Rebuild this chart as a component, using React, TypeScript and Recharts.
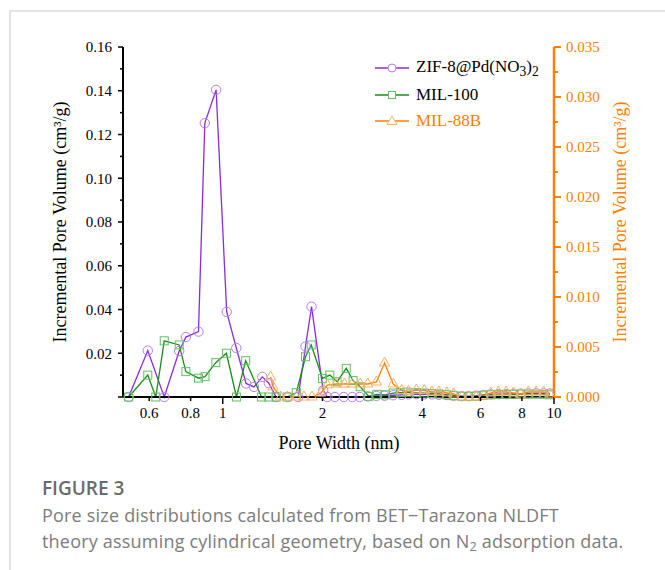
import React from 'react';
import { LineChart, Line, XAxis, YAxis, Legend } from 'recharts';

// pore width (nm) and incremental pore volume (cm3/g)
const zifWidth = [0.52, 0.594, 0.666, 0.739, 0.774, 0.845, 0.883, 0.955, 1.028, 1.099, 1.176, 1.243, 1.317, 1.378, 1.45, 1.57, 1.69, 1.778, 1.854, 2.01, 2.07, 2.18, 2.32, 2.46, 2.59, 2.74, 2.91, 3.08, 3.27, 3.47, 3.64, 3.84, 4.06, 4.28, 4.49, 4.75, 4.98, 5.27, 5.53, 5.82, 6.13, 6.44, 6.79, 7.17, 7.54, 7.93, 8.37, 8.83, 9.3, 9.72];
const zifVolume = [0, 0.0212, 0, 0.021, 0.0274, 0.0299, 0.1252, 0.1404, 0.0389, 0.0224, 0.0062, 0.0046, 0.0092, 0.0063, 0, 0, 0, 0.0231, 0.0413, 0.003, 0, 0, 0, 0, 0, 0.0003, 0.0005, 0.0006, 0.0008, 0.001, 0.0012, 0.0013, 0.0012, 0.0012, 0.001, 0.0009, 0.0006, 0.0004, 0.0004, 0.0006, 0.0009, 0.0012, 0.0013, 0.0013, 0.0014, 0.0015, 0.0016, 0.0017, 0.0017, 0.0016];

const milWidth = [0.52, 0.594, 0.628, 0.666, 0.739, 0.774, 0.845, 0.884, 0.953, 1.026, 1.1, 1.173, 1.31, 1.378, 1.45, 1.566, 1.668, 1.778, 1.85, 2.0, 2.105, 2.215, 2.36, 2.475, 2.6, 2.76, 2.92, 3.1, 3.27, 3.44, 3.6, 3.84, 4.06, 4.28, 4.49, 4.75, 4.98, 5.27, 5.53, 5.82, 6.13, 6.44, 6.79, 7.17, 7.54, 7.93, 8.37, 8.83, 9.3, 9.72];
const milVolume = [0, 0.01, 0, 0.0257, 0.0238, 0.0116, 0.0086, 0.0093, 0.0157, 0.02, 0, 0.0166, 0, 0, 0, 0, 0.002, 0.0184, 0.0238, 0.0085, 0.01, 0.007, 0.0131, 0.0075, 0.0047, 0.0003, 0.0012, 0.001, 0.0018, 0.002, 0.0022, 0.002, 0.0018, 0.0016, 0.0014, 0.001, 0.0006, 0.0003, 0.0002, 0.0004, 0.0008, 0.001, 0.0011, 0.0012, 0.0012, 0.0013, 0.0013, 0.0013, 0.0012, 0.001];

// MIL-88B is on the right axis
const mil88Width = [1.395, 1.42, 1.496, 1.566, 1.668, 1.758, 1.86, 1.98, 2.07, 2.2, 2.33, 2.46, 2.6, 2.74, 2.91, 3.08, 3.27, 3.47, 3.64, 3.84, 4.06, 4.28, 4.49, 4.75, 4.98, 5.27, 5.53, 5.82, 6.13, 6.44, 6.79, 7.17, 7.54, 7.93, 8.37, 8.83, 9.3, 9.72];
const mil88Volume = [0.002, 0.001, 0, 0, 0, 0, 0, 0.0004, 0.0012, 0.0013, 0.0013, 0.0013, 0.0013, 0.0013, 0.0015, 0.0034, 0.0013, 0.00065, 0.00055, 0.0007, 0.00065, 0.0005, 0.0005, 0.0004, 0.0003, 0, 0, 0, 0.0001, 0.0004, 0.0005, 0.0005, 0.0004, 0.0003, 0.0005, 0.0005, 0.0005, 0.0003];

const xTicks = [0.6, 0.8, 1, 2, 4, 6, 8, 10];
const leftTicks = [0, 0.01, 0.02, 0.03, 0.04, 0.05, 0.06, 0.07, 0.08, 0.09, 0.1, 0.11, 0.12, 0.13, 0.14, 0.15, 0.16];
const rightTicks = [0, 0.0025, 0.005, 0.0075, 0.01, 0.0125, 0.015, 0.0175, 0.02, 0.0225, 0.025, 0.0275, 0.03, 0.0325, 0.035];

const toPoints = (w: number[], v: number[]) => w.map((x, i) => ({ x, y: v[i] }));
const zifData = toPoints(zifWidth, zifVolume);
const milData = toPoints(milWidth, milVolume);
const mil88Data = toPoints(mil88Width, mil88Volume);

const PURPLE = '#8a2be2';
const PURPLE_LT = '#b47ef0';
const GREEN = '#1a8c1a';
const GREEN_LT = '#63c063';
const ORANGE = '#ff8000';
const ORANGE_LT = '#ffb066';
const SERIF = '"Liberation Serif", "Times New Roman", serif';
const SANS = '"Open Sans", "Noto Sans", sans-serif';

const CircleDot = (p: any) => (
  <circle key={p.index} cx={p.cx} cy={p.cy} r={4.7} fill="none" stroke={PURPLE_LT} strokeWidth={1} />
);
const SquareDot = (p: any) => (
  <rect key={p.index} x={p.cx - 4} y={p.cy - 4} width={8} height={8} fill="none" stroke={GREEN_LT} strokeWidth={1} />
);
const TriangleDot = (p: any) => (
  <path key={p.index} d={`M${p.cx},${p.cy - 6}L${p.cx + 5.1},${p.cy + 3}L${p.cx - 5.1},${p.cy + 3}Z`} fill="none" stroke={ORANGE_LT} strokeWidth={1} />
);

const BottomTick = (props: any) => {
  const { x, y, payload } = props;
  const v = payload.value;
  const long = v === 1 || v === 10;
  return (
    <g>
      <line x1={x} x2={x} y1={y} y2={y + (long ? 7 : 4)} stroke="#000" strokeWidth={1.5} />
      <text x={x} y={y + 21} textAnchor="middle" fontFamily={SERIF} fontSize={15} fill="#000">{v}</text>
    </g>
  );
};

const LeftTick = (props: any) => {
  const { x, y, payload } = props;
  const v = payload.value;
  const major = Math.round(v * 100) % 2 === 0;
  return (
    <g>
      <line x1={x} x2={x - (major ? 5 : 3)} y1={y} y2={y} stroke="#000" strokeWidth={1.5} />
      {major && v > 0 && (
        <text x={x - 11} y={y} dy="0.35em" textAnchor="end" fontFamily={SERIF} fontSize={15} fill="#000">{v.toFixed(2)}</text>
      )}
    </g>
  );
};

const RightTick = (props: any) => {
  const { x, y, payload } = props;
  const v = payload.value;
  const major = Math.round(v * 10000) % 50 === 0;
  return (
    <g>
      <line x1={x} x2={x + (major ? 7 : 4)} y1={y} y2={y} stroke={ORANGE} strokeWidth={2} />
      {major && (
        <text x={x + 12} y={y} dy="0.35em" textAnchor="start" fontFamily={SERIF} fontSize={15} fill={ORANGE}>{v.toFixed(3)}</text>
      )}
    </g>
  );
};

const subStyle: React.CSSProperties = { fontSize: '0.8em', verticalAlign: '-0.3em' };

const legendItems = [
  { key: 'zif', color: PURPLE, marker: 'circle', text: <>ZIF-8@Pd(NO<sub style={subStyle}>3</sub>)<sub style={subStyle}>2</sub></>, textColor: '#000' },
  { key: 'mil100', color: GREEN, marker: 'square', text: 'MIL-100', textColor: '#000' },
  { key: 'mil88', color: ORANGE, marker: 'triangle', text: 'MIL-88B', textColor: ORANGE },
];

const renderLegend = () => (
  <div style={{ fontFamily: SERIF, fontSize: 17 }}>
    {legendItems.map(it => (
      <div key={it.key} style={{ display: 'flex', alignItems: 'center', height: 26.5 }}>
        <svg width={34} height={12} style={{ marginRight: 7 }}>
          <line x1={0} x2={34} y1={6} y2={6} stroke={it.color} strokeWidth={1.3} />
          {it.marker === 'circle' && <circle cx={17} cy={6} r={4} fill="#fff" stroke={PURPLE_LT} />}
          {it.marker === 'square' && <rect x={13.5} y={2.5} width={7} height={7} fill="#fff" stroke={GREEN_LT} />}
          {it.marker === 'triangle' && <path d="M17,1L22,9.5L12,9.5Z" fill="#fff" stroke={ORANGE_LT} />}
        </svg>
        <span style={{ color: it.textColor, whiteSpace: 'nowrap' }}>{it.text}</span>
      </div>
    ))}
  </div>
);

const App: React.FC = () => {
  return (
    <div style={{ position: 'absolute', left: 0, top: 0, width: 665, height: 570, overflow: 'hidden', background: '#fff' }}>
      {/* figure frame */}
      <div style={{ position: 'absolute', left: 9, top: 10, width: 700, height: 600, borderTop: '2px solid #e3e3e3', borderLeft: '2px solid #e3e3e3' }} />

      <div style={{ position: 'absolute', left: 0, top: 0 }}>
        <LineChart width={665} height={470} margin={{ top: 47, right: 51, bottom: 43, left: 63 }}>
          <XAxis
            dataKey="x"
            type="number"
            scale="log"
            domain={[0.5, 10]}
            ticks={xTicks}
            interval={0}
            allowDataOverflow
            tick={<BottomTick />}
            tickLine={false}
            tickSize={0}
            tickMargin={0}
            height={30}
            axisLine={{ stroke: '#000', strokeWidth: 2 }}
          />
          <XAxis
            xAxisId="top"
            orientation="top"
            type="number"
            scale="log"
            domain={[0.5, 10]}
            tick={false}
            tickLine={false}
            height={0}
            axisLine={{ stroke: '#000', strokeWidth: 2 }}
          />
          <YAxis
            yAxisId="left"
            type="number"
            domain={[0, 0.16]}
            ticks={leftTicks}
            interval={0}
            tick={<LeftTick />}
            tickLine={false}
            tickSize={0}
            tickMargin={0}
            width={60}
            axisLine={{ stroke: '#000', strokeWidth: 2 }}
          />
          <YAxis
            yAxisId="right"
            orientation="right"
            type="number"
            domain={[0, 0.035]}
            ticks={rightTicks}
            interval={0}
            tick={<RightTick />}
            tickLine={false}
            tickSize={0}
            tickMargin={0}
            width={60}
            axisLine={{ stroke: ORANGE, strokeWidth: 2.5 }}
          />
          <Legend
            layout="vertical"
            align="center"
            verticalAlign="middle"
            content={renderLegend}
            wrapperStyle={{ left: 375, top: 55, width: 220 }}
          />
          <Line data={zifData} dataKey="y" yAxisId="left" name="ZIF-8@Pd(NO3)2" type="linear" stroke={PURPLE} strokeWidth={1.3} dot={CircleDot} activeDot={false} isAnimationActive={false} />
          <Line data={milData} dataKey="y" yAxisId="left" name="MIL-100" type="linear" stroke={GREEN} strokeWidth={1.3} dot={SquareDot} activeDot={false} isAnimationActive={false} />
          <Line data={mil88Data} dataKey="y" yAxisId="right" name="MIL-88B" type="linear" stroke={ORANGE} strokeWidth={1.3} dot={TriangleDot} activeDot={false} isAnimationActive={false} />
        </LineChart>
      </div>

      {/* axis titles */}
      <div style={{ position: 'absolute', left: 60, top: 222, transform: 'translate(-50%, -50%) rotate(-90deg)', whiteSpace: 'nowrap', fontFamily: SERIF, fontSize: 18, color: '#000' }}>
        Incremental Pore Volume (cm³/g)
      </div>
      <div style={{ position: 'absolute', left: 620, top: 222, transform: 'translate(-50%, -50%) rotate(-90deg)', whiteSpace: 'nowrap', fontFamily: SERIF, fontSize: 18, color: ORANGE }}>
        Incremental Pore Volume (cm³/g)
      </div>
      <div style={{ position: 'absolute', left: 339, top: 443, transform: 'translate(-50%, -50%)', whiteSpace: 'nowrap', fontFamily: SERIF, fontSize: 18, color: '#000' }}>
        Pore Width (nm)
      </div>

      {/* caption */}
      <div style={{ position: 'absolute', left: 42, top: 475, fontFamily: SANS, fontSize: 19, fontWeight: 600, color: '#6b6b6b', lineHeight: '26px' }}>
        FIGURE 3
      </div>
      <div style={{ position: 'absolute', left: 42, top: 502, width: 620, fontFamily: SANS, fontSize: 18, letterSpacing: 0.2, color: '#7c7c7c', lineHeight: '26px', whiteSpace: 'nowrap' }}>
        Pore size distributions calculated from BET−Tarazona NLDFT<br />
        theory assuming cylindrical geometry, based on N<sub style={{ fontSize: '0.7em', verticalAlign: '-0.25em', lineHeight: 0 }}>2</sub> adsorption data.
      </div>
    </div>
  );
};

export default App;
